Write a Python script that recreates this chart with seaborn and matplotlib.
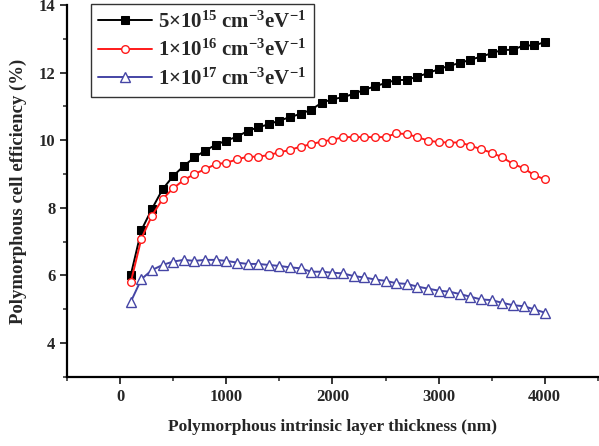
"""
Polymorphous cell efficiency vs intrinsic layer thickness for three defect densities.
Output: out.png
"""
import pandas as pd
import matplotlib
matplotlib.use("Agg")
import matplotlib.pyplot as plt
from matplotlib.ticker import MultipleLocator
import seaborn as sns

FIG_PATH = "out.png"

thickness = list(range(100, 4100, 100))

eff_5e15 = [6.01, 7.34, 7.97, 8.55, 8.94, 9.24, 9.49, 9.69, 9.86, 9.99,
            10.10, 10.27, 10.38, 10.47, 10.58, 10.68, 10.78, 10.90, 11.11, 11.21,
            11.27, 11.37, 11.49, 11.59, 11.69, 11.78, 11.78, 11.88, 11.98, 12.10,
            12.20, 12.28, 12.38, 12.47, 12.57, 12.67, 12.67, 12.80, 12.80, 12.90]

eff_1e16 = [5.80, 7.09, 7.77, 8.26, 8.58, 8.82, 9.00, 9.14, 9.29, 9.33,
            9.43, 9.51, 9.51, 9.56, 9.64, 9.71, 9.81, 9.88, 9.96, 10.01,
            10.09, 10.09, 10.09, 10.09, 10.09, 10.20, 10.18, 10.09, 9.99, 9.94,
            9.93, 9.93, 9.84, 9.73, 9.63, 9.49, 9.30, 9.17, 8.97, 8.84]

eff_1e17 = [5.22, 5.89, 6.16, 6.31, 6.41, 6.46, 6.43, 6.46, 6.46, 6.43,
            6.38, 6.34, 6.34, 6.31, 6.28, 6.24, 6.21, 6.11, 6.11, 6.08,
            6.06, 5.98, 5.94, 5.88, 5.84, 5.77, 5.75, 5.67, 5.61, 5.55,
            5.52, 5.45, 5.37, 5.29, 5.27, 5.19, 5.12, 5.09, 5.00, 4.90]

labels = [r"5$\times$10$^{15}$ cm$^{-3}$eV$^{-1}$",
          r"1$\times$10$^{16}$ cm$^{-3}$eV$^{-1}$",
          r"1$\times$10$^{17}$ cm$^{-3}$eV$^{-1}$"]


def main():
    sns.set_style("ticks")
    plt.rcParams["font.family"] = ["Liberation Serif", "DejaVu Serif"]
    plt.rcParams["font.weight"] = "bold"
    plt.rcParams["mathtext.fontset"] = "custom"
    plt.rcParams["mathtext.rm"] = "Liberation Serif:bold"
    plt.rcParams["mathtext.it"] = "Liberation Serif:bold"
    plt.rcParams["mathtext.bf"] = "Liberation Serif:bold"

    df = pd.DataFrame({"thickness": thickness, "a": eff_5e15,
                       "b": eff_1e16, "c": eff_1e17})

    fig = plt.figure(figsize=(5.99, 4.46), dpi=100)
    ax = fig.add_axes([0.112, 0.155, 0.886, 0.834])

    sns.lineplot(data=df, x="thickness", y="a", ax=ax, color="black", lw=1.4,
                 marker="s", markersize=5.5, markerfacecolor="black",
                 markeredgecolor="black", label=labels[0])
    sns.lineplot(data=df, x="thickness", y="b", ax=ax, color="#ff1a1a", lw=1.4,
                 marker="o", markersize=5.5, markerfacecolor="white",
                 markeredgecolor="#ff1a1a", markeredgewidth=1.0, label=labels[1])
    sns.lineplot(data=df, x="thickness", y="c", ax=ax, color="#4545a5", lw=1.4,
                 marker="^", markersize=6.5, markerfacecolor="white",
                 markeredgecolor="#4545a5", markeredgewidth=1.0, label=labels[2])

    ax.set_xlim(-500, 4500)
    ax.set_ylim(3, 14)
    ax.xaxis.set_major_locator(MultipleLocator(1000))
    ax.xaxis.set_minor_locator(MultipleLocator(500))
    ax.yaxis.set_major_locator(MultipleLocator(2))
    ax.yaxis.set_minor_locator(MultipleLocator(1))
    ax.tick_params(which="major", length=5, width=1.3, labelsize=12, direction="out")
    ax.tick_params(which="minor", length=3, width=1.1, direction="out")
    for lab in ax.get_xticklabels() + ax.get_yticklabels():
        lab.set_fontweight("bold")

    for side in ["top", "right"]:
        ax.spines[side].set_visible(False)
    for side in ["left", "bottom"]:
        ax.spines[side].set_linewidth(1.6)
        ax.spines[side].set_color("black")

    ax.set_xlabel("Polymorphous intrinsic layer thickness (nm)",
                  fontsize=12.5, fontweight="bold", labelpad=10)
    ax.set_ylabel("Polymorphous cell efficiency (%)",
                  fontsize=13.5, fontweight="bold", labelpad=8)

    leg = ax.legend(loc="upper left", bbox_to_anchor=(0.025, 1.03), fontsize=15,
                    frameon=True, fancybox=False, handlelength=2.6,
                    borderpad=0.35, labelspacing=0.35, handletextpad=0.3)
    leg.get_frame().set_edgecolor("black")
    leg.get_frame().set_linewidth(1.0)

    fig.savefig(FIG_PATH, dpi=100)
    plt.close(fig)
    print(f"Saved {FIG_PATH}")


if __name__ == "__main__":
    main()
